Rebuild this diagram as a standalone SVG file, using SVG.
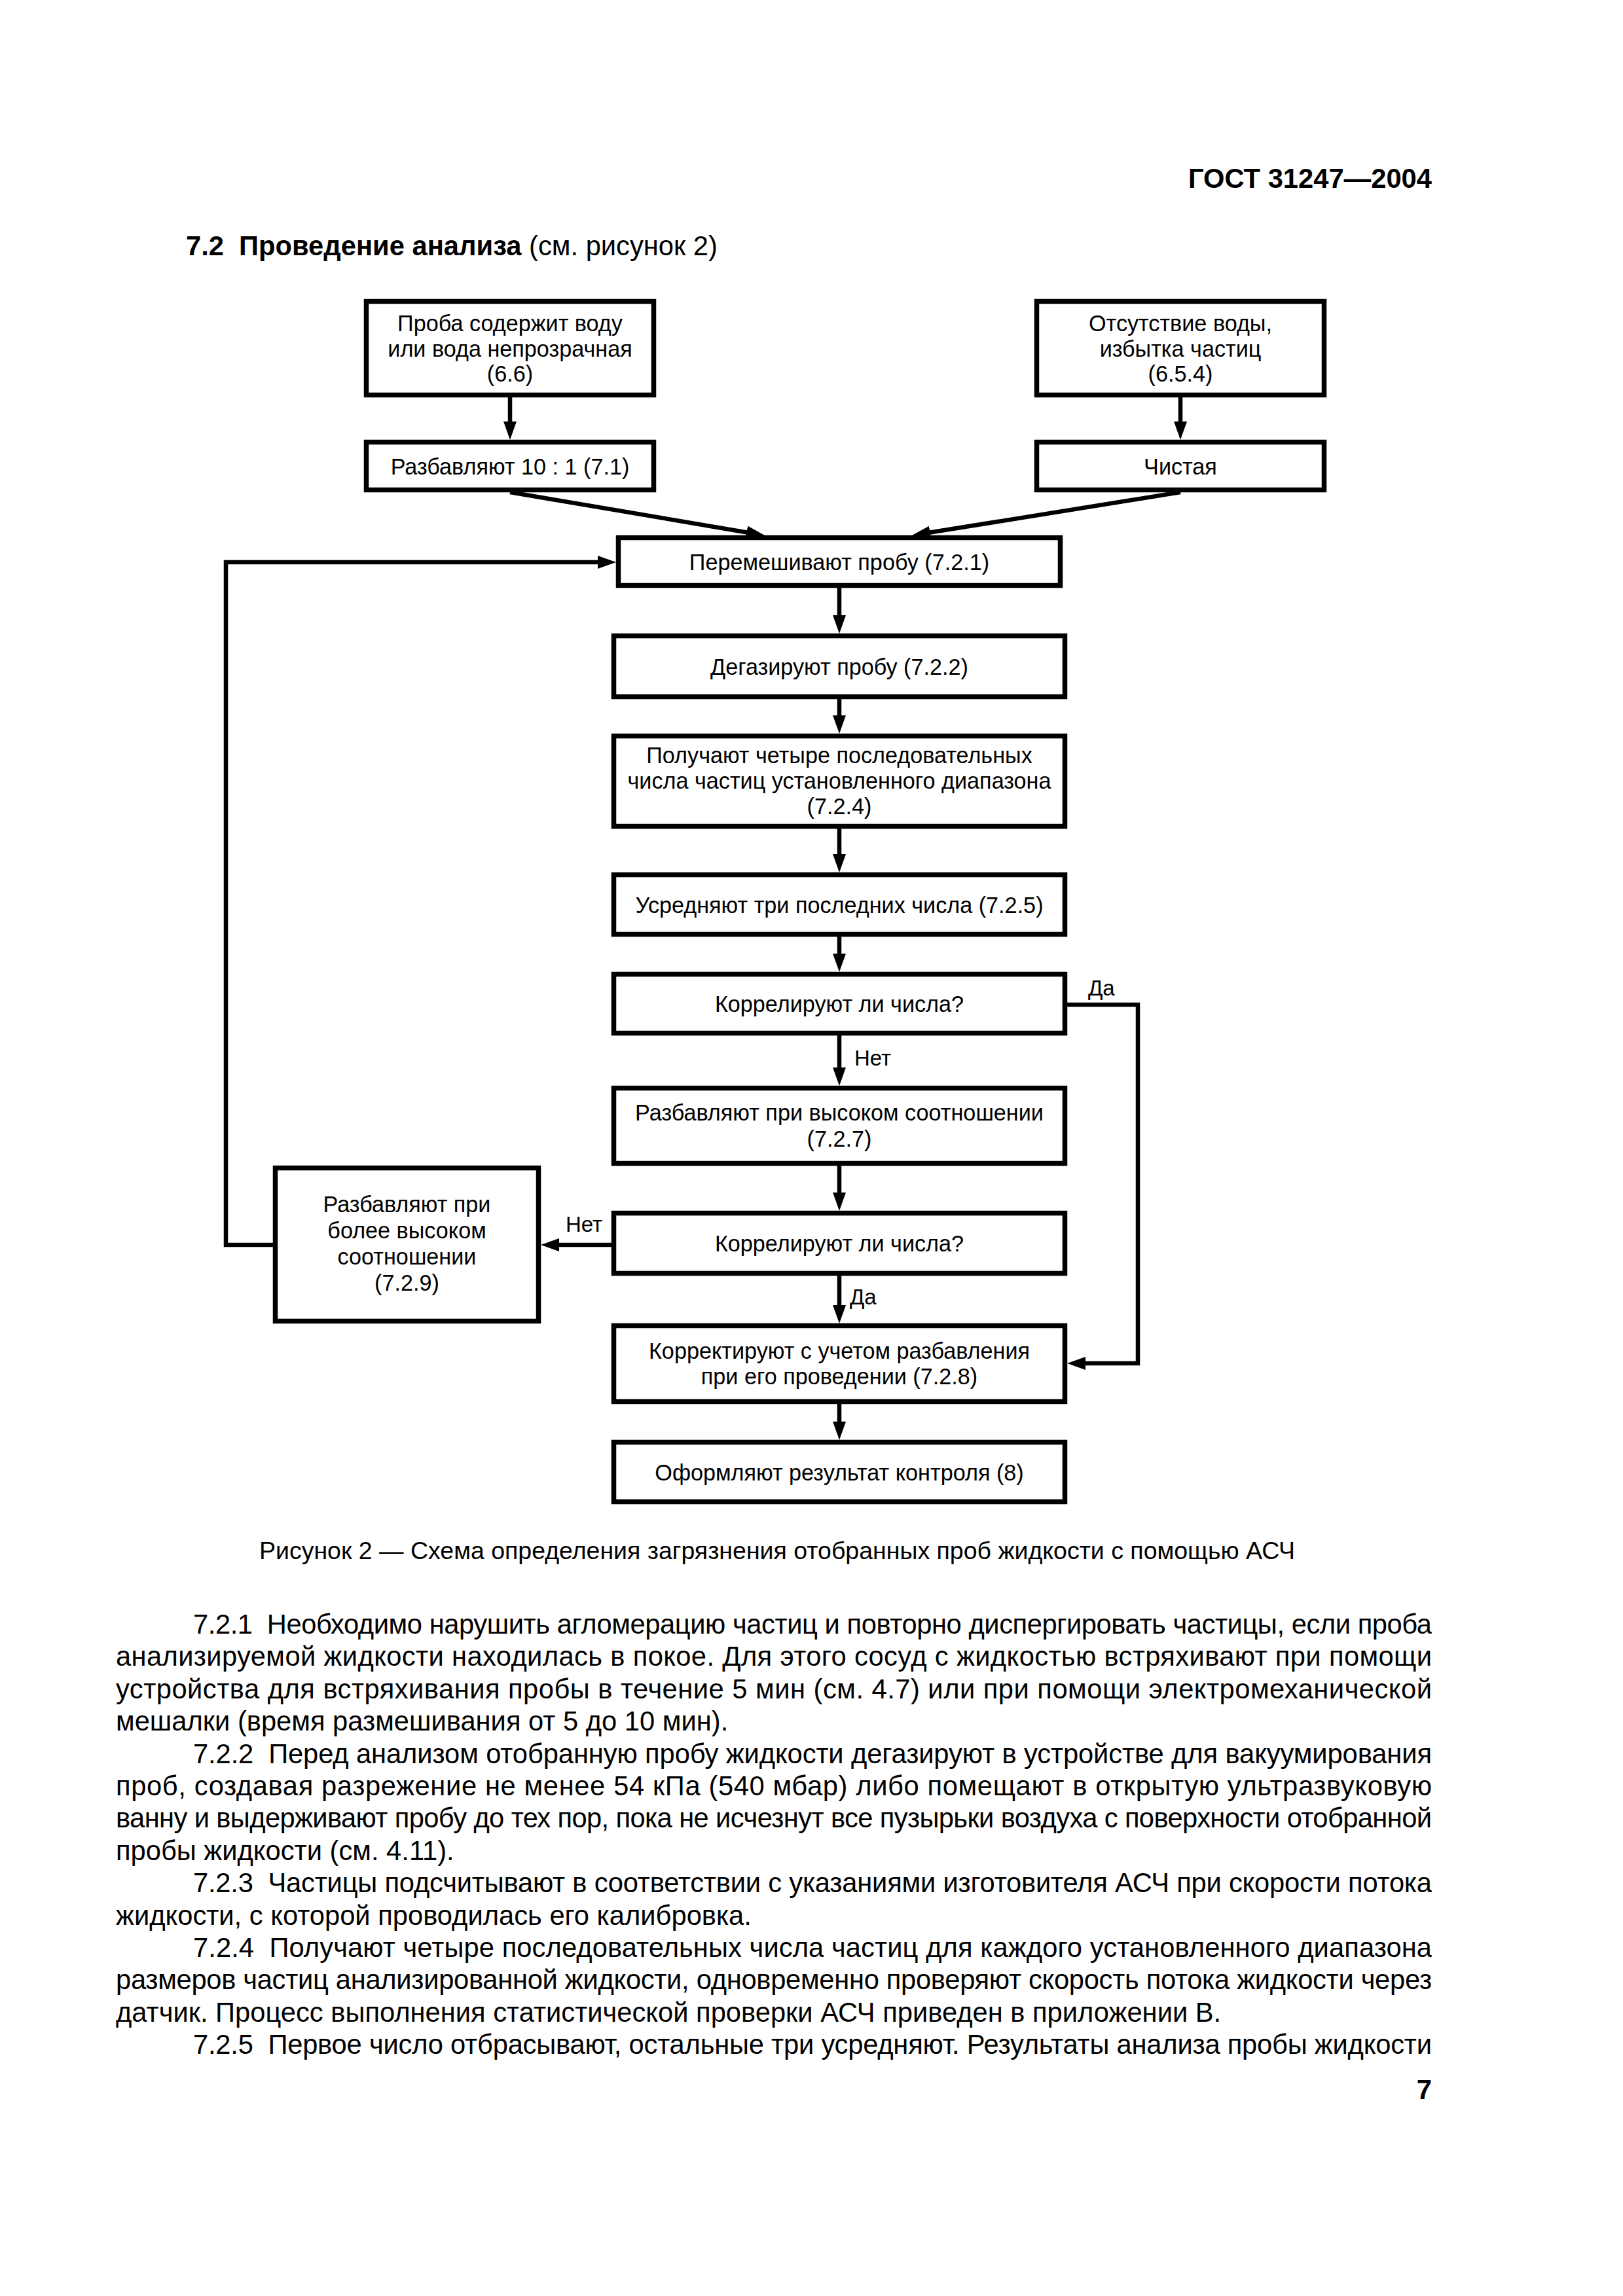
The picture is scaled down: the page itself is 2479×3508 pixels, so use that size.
<svg xmlns="http://www.w3.org/2000/svg" width="2479" height="3508" viewBox="0 0 2479 3508">
<style>
.box{fill:#fff;stroke:#000;stroke-width:7.5}
.c{fill:none;stroke:#000;stroke-width:6.5}
.t{font-family:"Liberation Sans",Arial,sans-serif;font-size:34.2px;text-anchor:middle;fill:#000}
.lbl{font-family:"Liberation Sans",Arial,sans-serif;font-size:33px;fill:#000}
.body{font-family:"Liberation Sans",Arial,sans-serif;font-size:41.7px;fill:#000;white-space:pre}
.hd{font-family:"Liberation Sans",Arial,sans-serif;font-size:41.7px;fill:#000;white-space:pre}
</style>
<defs>
<marker id="ah" markerUnits="userSpaceOnUse" markerWidth="28" markerHeight="20" refX="14" refY="10" orient="auto" viewBox="0 0 28 20">
<path d="M0,0 L28,10 L0,20 z" fill="#000"/>
</marker>
</defs>
<rect x="0" y="0" width="2479" height="3508" fill="#fff"/>

<text class="hd" x="2187" y="287" font-weight="bold" text-anchor="end">ГОСТ 31247—2004</text>
<text class="hd" x="284" y="390" xml:space="preserve"><tspan font-weight="bold">7.2  Проведение анализа</tspan> (см. рисунок 2)</text>

<g id="n1"><rect class="box" x="559.5" y="460.5" width="439" height="143"/>
<text class="t" x="779" y="506">Проба содержит воду</text>
<text class="t" x="779" y="544.5">или вода непрозрачная</text>
<text class="t" x="779" y="583">(6.6)</text></g>

<g id="n2"><rect class="box" x="1583.5" y="460.5" width="439" height="143"/>
<text class="t" x="1803" y="506">Отсутствие воды,</text>
<text class="t" x="1803" y="544.5">избытка частиц</text>
<text class="t" x="1803" y="583">(6.5.4)</text></g>

<g id="n3"><rect class="box" x="559.5" y="675.5" width="439" height="73"/>
<text class="t" x="779" y="724.5">Разбавляют 10 : 1 (7.1)</text></g>

<g id="n4"><rect class="box" x="1583.5" y="675.5" width="439" height="73"/>
<text class="t" x="1803" y="724.5">Чистая</text></g>

<g id="n5"><rect class="box" x="944.5" y="821.5" width="675" height="73"/>
<text class="t" x="1282" y="870.5">Перемешивают пробу (7.2.1)</text></g>

<g id="n6"><rect class="box" x="937.5" y="971.5" width="689" height="93"/>
<text class="t" x="1282" y="1030.5">Дегазируют пробу (7.2.2)</text></g>

<g id="n7"><rect class="box" x="937.5" y="1124.5" width="689" height="138"/>
<text class="t" x="1282" y="1166">Получают четыре последовательных</text>
<text class="t" x="1282" y="1205">числа частиц установленного диапазона</text>
<text class="t" x="1282" y="1244">(7.2.4)</text></g>

<g id="n8"><rect class="box" x="937.5" y="1336.5" width="689" height="91"/>
<text class="t" x="1282" y="1394.5">Усредняют три последних числа (7.2.5)</text></g>

<g id="n9"><rect class="box" x="937.5" y="1488.5" width="689" height="90"/>
<text class="t" x="1282" y="1546">Коррелируют ли числа?</text></g>

<g id="n10"><rect class="box" x="937.5" y="1662.5" width="689" height="115"/>
<text class="t" x="1282" y="1712">Разбавляют при высоком соотношении</text>
<text class="t" x="1282" y="1751.5">(7.2.7)</text></g>

<g id="n11"><rect class="box" x="937.5" y="1853.5" width="689" height="92"/>
<text class="t" x="1282" y="1912">Коррелируют ли числа?</text></g>

<g id="n12"><rect class="box" x="420.5" y="1784.5" width="402" height="234"/>
<text class="t" x="621.5" y="1852">Разбавляют при</text>
<text class="t" x="621.5" y="1892">более высоком</text>
<text class="t" x="621.5" y="1932">соотношении</text>
<text class="t" x="621.5" y="1972">(7.2.9)</text></g>

<g id="n13"><rect class="box" x="937.5" y="2025.5" width="689" height="116"/>
<text class="t" x="1282" y="2076">Корректируют с учетом разбавления</text>
<text class="t" x="1282" y="2115">при его проведении (7.2.8)</text></g>

<g id="n14"><rect class="box" x="937.5" y="2203.5" width="689" height="91"/>
<text class="t" x="1282" y="2262">Оформляют результат контроля (8)</text></g>

<g id="connectors">
<line class="c" x1="779" y1="607" x2="779" y2="658" marker-end="url(#ah)"/>
<line class="c" x1="1803" y1="607" x2="1803" y2="658" marker-end="url(#ah)"/>
<line class="c" x1="779" y1="752" x2="1154.2" y2="815.7" marker-end="url(#ah)"/>
<line class="c" x1="1803" y1="752" x2="1406.8" y2="815.8" marker-end="url(#ah)"/>
<line class="c" x1="1282" y1="898" x2="1282" y2="954" marker-end="url(#ah)"/>
<line class="c" x1="1282" y1="1068" x2="1282" y2="1107" marker-end="url(#ah)"/>
<line class="c" x1="1282" y1="1266" x2="1282" y2="1319" marker-end="url(#ah)"/>
<line class="c" x1="1282" y1="1431" x2="1282" y2="1471" marker-end="url(#ah)"/>
<line class="c" x1="1282" y1="1582" x2="1282" y2="1645" marker-end="url(#ah)"/>
<line class="c" x1="1282" y1="1781" x2="1282" y2="1836" marker-end="url(#ah)"/>
<line class="c" x1="1282" y1="1949" x2="1282" y2="2008" marker-end="url(#ah)"/>
<line class="c" x1="1282" y1="2145" x2="1282" y2="2186" marker-end="url(#ah)"/>
<line class="c" x1="934" y1="1902" x2="840" y2="1902" marker-end="url(#ah)"/>
<polyline class="c" points="417,1902 345,1902 345,859 927,859" marker-end="url(#ah)"/>
<polyline class="c" points="1630,1535 1738,1535 1738,2083 1644,2083" marker-end="url(#ah)"/>
<text class="lbl" x="1305" y="1628">Нет</text>
<text class="lbl" x="1298" y="1993">Да</text>
<text class="lbl" x="864" y="1882">Нет</text>
<text class="lbl" x="1662" y="1521">Да</text>
</g>

<text x="396" y="2382" font-family="Liberation Sans, Arial, sans-serif" font-size="37.5" textLength="1582" lengthAdjust="spacing">Рисунок 2 — Схема определения загрязнения отобранных проб жидкости с помощью АСЧ</text>

<g xml:space="preserve">
<text class="body" x="295" y="2496" textLength="1892" lengthAdjust="spacing">7.2.1  Необходимо нарушить агломерацию частиц и повторно диспергировать частицы, если проба</text>
<text class="body" x="177" y="2545.4" textLength="2010" lengthAdjust="spacing">анализируемой жидкости находилась в покое. Для этого сосуд с жидкостью встряхивают при помощи</text>
<text class="body" x="177" y="2594.8" textLength="2010" lengthAdjust="spacing">устройства для встряхивания пробы в течение 5 мин (см. 4.7) или при помощи электромеханической</text>
<text class="body" x="177" y="2644.2">мешалки (время размешивания от 5 до 10 мин).</text>
<text class="body" x="295" y="2693.6" textLength="1892" lengthAdjust="spacing">7.2.2  Перед анализом отобранную пробу жидкости дегазируют в устройстве для вакуумирования</text>
<text class="body" x="177" y="2743" textLength="2010" lengthAdjust="spacing">проб, создавая разрежение не менее 54 кПа (540 мбар) либо помещают в открытую ультразвуковую</text>
<text class="body" x="177" y="2792.4" textLength="2010" lengthAdjust="spacing">ванну и выдерживают пробу до тех пор, пока не исчезнут все пузырьки воздуха с поверхности отобранной</text>
<text class="body" x="177" y="2841.8">пробы жидкости (см. 4.11).</text>
<text class="body" x="295" y="2891.2" textLength="1892" lengthAdjust="spacing">7.2.3  Частицы подсчитывают в соответствии с указаниями изготовителя АСЧ при скорости потока</text>
<text class="body" x="177" y="2940.6">жидкости, с которой проводилась его калибровка.</text>
<text class="body" x="295" y="2990" textLength="1892" lengthAdjust="spacing">7.2.4  Получают четыре последовательных числа частиц для каждого установленного диапазона</text>
<text class="body" x="177" y="3039.4" textLength="2010" lengthAdjust="spacing">размеров частиц анализированной жидкости, одновременно проверяют скорость потока жидкости через</text>
<text class="body" x="177" y="3088.8">датчик. Процесс выполнения статистической проверки АСЧ приведен в приложении В.</text>
<text class="body" x="295" y="3138.2" textLength="1892" lengthAdjust="spacing">7.2.5  Первое число отбрасывают, остальные три усредняют. Результаты анализа пробы жидкости</text>
</g>
<text class="body" x="2187" y="3207" text-anchor="end" font-weight="bold">7</text>
</svg>
